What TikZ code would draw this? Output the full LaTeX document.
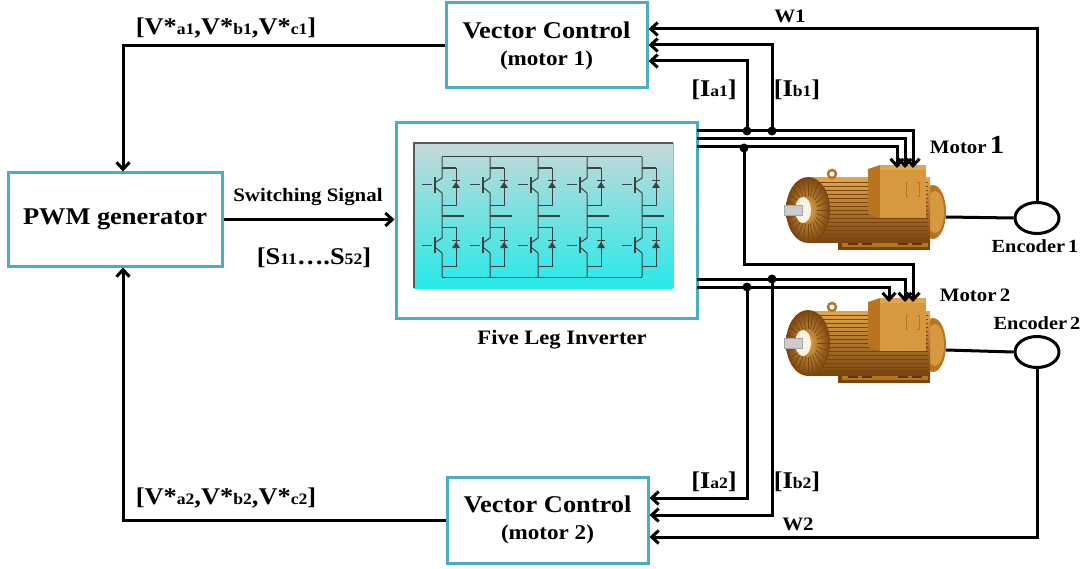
\documentclass[tikz,border=0pt]{standalone}
\usepackage{fontspec}
\setmainfont[FakeStretch=1.1]{Liberation Serif}
\usetikzlibrary{arrows.meta,shapes.geometric,calc}
\definecolor{boxc}{HTML}{4BACC6}
\definecolor{goldA}{HTML}{E2A64A}
\definecolor{goldB}{HTML}{B8741E}
\definecolor{goldC}{HTML}{7A4410}
\definecolor{goldD}{HTML}{D89840}
\newcommand\lsub[1]{{\fontsize{16}{16}\selectfont #1}}
\newcommand\fsz[1]{\fontsize{#1}{#1}\selectfont}
\tikzset{
  blk/.style={draw=boxc, line width=3pt, fill=white, inner sep=0pt},
  wire/.style={line width=3pt, draw=black},
  arr/.style={wire, -{Straight Barb[length=7pt,width=13pt]}},
  jdot/.style={circle, fill=black, inner sep=0pt, minimum size=9pt},
  lbl/.style={font=\bfseries\fsz{24}, inner sep=0pt},
  enc/.style={ellipse, draw, line width=3pt, minimum width=44pt, minimum height=31pt, inner sep=0pt},
  motor/.pic={
    % feet
    \fill[goldC] (68,78) rectangle (160,100);
    \fill[goldB] (72,80) rectangle (158,97);
    \foreach \u in {78,92,128,142}{\fill[goldC!80!black] (\u,84) rectangle (\u+10,95);}
    % back end bell
    \fill[goldB] (163,62) ellipse (13pt and 27pt);
    \fill[goldD] (165,62) ellipse (9pt and 21pt);
    % body
    \shade[top color=goldA, bottom color=goldC] (37,28) rectangle (160,92);
    \foreach \v in {32,36,...,90}{\draw[goldC, line width=0.8pt] (40,\v) -- (158,\v);}
    % front end bell
    \shade[inner color=goldA, outer color=goldC] (38,60) ellipse (22pt and 33pt);
    \foreach \a in {0,15,...,345}{\draw[goldC, line width=0.7pt] ($(38,60)+(\a:9pt and 14pt)$) -- ($(38,60)+(\a:21pt and 32pt)$);}
    \fill[white!85!goldA] (33,60) ellipse (8pt and 13pt);
    % shaft
    \fill[gray!40] (14,55) rectangle (32,65);
    \draw[gray!70, line width=0.6pt] (14,55) rectangle (32,65);
    % lifting eye
    \draw[goldB, line width=2.5pt] (62,24) circle (4pt);
    % terminal box
    \fill[goldB] (98,19) -- (110,15) -- (110,68) -- (98,64) -- cycle;
    \fill[goldD] (110,15) rectangle (156,68);
    \fill[goldA] (110,15) rectangle (156,20);
    \draw[goldB, line width=0.8pt] (138,32) -- (136,32) -- (136,46) -- (138,46);
    \draw[goldB, line width=0.8pt] (147,32) -- (149,32) -- (149,46) -- (147,46);
  }
}
\begin{document}
\begin{tikzpicture}[x=1pt, y=-1pt]
\useasboundingbox (0,0) rectangle (1091,569);

% ---- blocks
\node[blk, minimum width=201pt, minimum height=85pt, align=center, font=\bfseries\fontsize{24}{27}\selectfont] (vc1) at (546.5,45.5)
  {Vector Control\\{\fontsize{21}{27}\selectfont (motor 1)}};
\node[blk, minimum width=201pt, minimum height=86pt, align=center, font=\bfseries\fontsize{24}{27}\selectfont] (vc2) at (547.5,520)
  {Vector Control\\{\fontsize{21}{27}\selectfont (motor 2)}};
\node[blk, minimum width=214pt, minimum height=93pt, font=\bfseries\fsz{24}] (pwm) at (115,219.5)
  {PWM generator};
\node[blk, minimum width=301pt, minimum height=195pt] (inv) at (546.5,220.5) {};

% ---- inverter picture
\shade[top color=white!90!cyan!70!gray, middle color=cyan!22, bottom color=cyan!80!teal!85!white]
  (414,143) rectangle (673,288);
\draw[gray!70!black, line width=1.5pt] (414,288) -- (414,143) -- (673,143);
\draw[gray!60, line width=1pt] (673,143) -- (673,288);
\begin{scope}[line width=1pt, draw=black!75]
  \draw (442,157) -- (642,157);
  \draw (442,277) -- (642,277);
  \foreach \X in {442,490,538,587,642}{
    % upper switch
    \draw (\X,157) -- (\X,178) -- (\X-6,182);
    \draw[line width=2pt] (\X-7,177) -- (\X-7,193);
    \draw (\X-20,185) -- (\X-10,185);
    \draw (\X-6,188) -- (\X,193) -- (\X,216);
    \draw[line width=2pt] (\X,168) -- (\X+14,168);
    \draw (\X+14,168) -- (\X+14,206) -- (\X,206);
    \fill[black!75] (\X+10,188) -- (\X+18,188) -- (\X+14,182) -- cycle;
    \draw (\X+10,181) -- (\X+18,181);
    % output stub
    \draw[line width=2pt] (\X,216) -- (\X+22,216);
    % lower switch
    \draw (\X,216) -- (\X,238) -- (\X-6,242);
    \draw[line width=2pt] (\X-7,237) -- (\X-7,253);
    \draw (\X-20,245) -- (\X-10,245);
    \draw (\X-6,248) -- (\X,253) -- (\X,277);
    \draw (\X,228) -- (\X+14,228) -- (\X+14,266) -- (\X,266);
    \fill[black!75] (\X+10,248) -- (\X+18,248) -- (\X+14,242) -- cycle;
    \draw (\X+10,241) -- (\X+18,241);
  }
\end{scope}

% ---- motors
\pic at (770,150) {motor};
\pic at (770,283) {motor};
\coordinate (m1s) at (946,217);
\coordinate (m2s) at (946,350);

% ---- encoders
\node[enc] (enc1) at (1037,218) {};
\node[enc] (enc2) at (1037,352) {};
\draw[wire] (m1s) -- (enc1.west);
\draw[wire] (m2s) -- (enc2.west);

% ---- control links
\draw[arr] (vc1.west) -| ([xshift=8pt]pwm.north);
\draw[arr] (vc2.west) -| ([xshift=8pt]pwm.south);
\draw[arr] (pwm.east) -- (pwm.east -| inv.west);

% ---- inverter outputs
\coordinate (o1) at (697,131);
\coordinate (o2) at (697,139);
\coordinate (o3) at (697,147);
\coordinate (o4) at (697,279);
\coordinate (o5) at (697,287);
\coordinate (t11) at (897,168);
\coordinate (t12) at (905,168);
\coordinate (t13) at (913,168);
\coordinate (t21) at (889,302);
\coordinate (t22) at (905,302);
\coordinate (t23) at (913,302);
\draw[arr] (o1) -| (t13);
\draw[arr] (o2) -| (t12);
\draw[arr] (o3) -| (t11);
\draw[arr] (o4) -| (t22);
\draw[arr] (o5) -| (t21);

\node[jdot] (j1) at (747,131) {};
\node[jdot] (j2) at (772,131) {};
\node[jdot] (j3) at (744,148) {};
\node[jdot] (j4) at (772,279) {};
\node[jdot] (j5) at (747,287) {};
\draw[arr] (j3.center) -- (744,264) -| (t23);

% ---- feedback
\draw[arr] (j1.center) |- ($(vc1.east)+(0,15.5)$);
\draw[arr] (j2.center) |- ($(vc1.east)+(0,-0.5)$);
\draw[arr] (enc1.north) |- ($(vc1.east)+(0,-16.5)$);
\draw[arr] (j5.center) |- ($(vc2.east)+(0,-22)$);
\draw[arr] (j4.center) |- ($(vc2.east)+(0,-5)$);
\draw[arr] (enc2.south) |- ($(vc2.east)+(0,17)$);

% ---- labels
\node[lbl] at (226,28) {[V*\lsub{a1},V*\lsub{b1},V*\lsub{c1}]};
\node[lbl] at (226,498) {[V*\lsub{a2},V*\lsub{b2},V*\lsub{c2}]};
\node[lbl, font=\bfseries\fsz{19}] at (308,197) {Switching Signal};
\node[lbl] at (314,258) {[S\lsub{11}\ldots.S\lsub{52}]};
\node[lbl, font=\bfseries\fsz{20.5}] at (562,340) {Five Leg Inverter};
\node[lbl] at (714,90) {[I\lsub{a1}]};
\node[lbl] at (797,90) {[I\lsub{b1}]};
\node[lbl] at (714,482) {[I\lsub{a2}]};
\node[lbl] at (797,482) {[I\lsub{b2}]};
\node[lbl, font=\bfseries\fsz{19}] at (790,16) {W1};
\node[lbl, font=\bfseries\fsz{19}] at (798,524) {W2};
\node[lbl, font=\bfseries\fsz{19}] at (967,145) {Motor\,{\fsz{26}1}};
\node[lbl, font=\bfseries\fsz{19}] at (975,295) {Motor\,2};
\node[lbl, font=\bfseries\fsz{18.5}] at (1035,246) {Encoder\,1};
\node[lbl, font=\bfseries\fsz{18.5}] at (1037,323) {Encoder\,2};
\end{tikzpicture}
\end{document}
